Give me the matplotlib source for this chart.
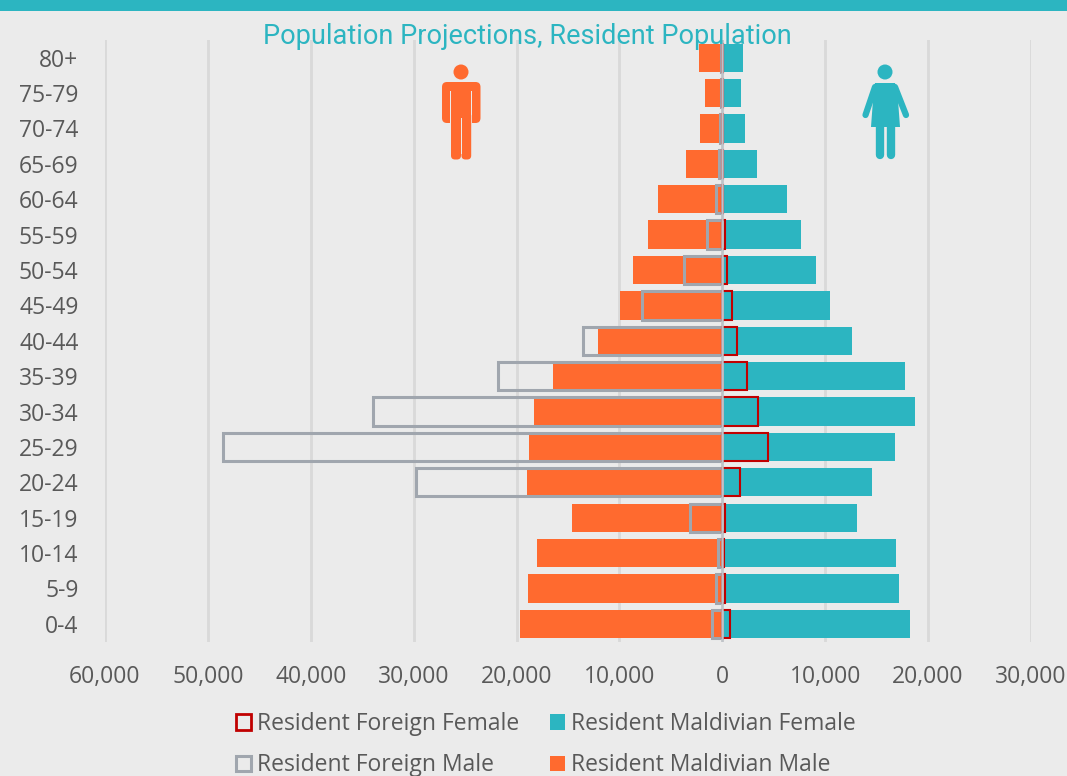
import matplotlib
matplotlib.use("Agg")
import matplotlib.pyplot as plt
from matplotlib.patches import Patch, Circle, FancyBboxPatch, Rectangle, Polygon

# bottom to top, same order as the chart
ages = ["0-4", "5-9", "10-14", "15-19", "20-24", "25-29", "30-34", "35-39", "40-44",
        "45-49", "50-54", "55-59", "60-64", "65-69", "70-74", "75-79", "80+"]
maldivian_male = [19650, 18900, 18000, 14600, 19000, 18800, 18300, 16450, 12060,
                  9900, 8650, 7200, 6300, 3500, 2150, 1650, 2250]
maldivian_female = [18200, 17200, 16900, 13050, 14500, 16800, 18700, 17800, 12650,
                    10500, 9150, 7650, 6300, 3350, 2250, 1850, 2000]
foreign_male = [1000, 600, 400, 3100, 29800, 48500, 34000, 21800, 13500,
                7800, 3700, 1500, 600, 300, 200, 100, 100]
foreign_female = [700, 300, 200, 250, 1750, 4400, 3500, 2350, 1400,
                  900, 500, 300, 100, 30, 30, 20, 20]
x_ticks = [-60000, -50000, -40000, -30000, -20000, -10000, 0, 10000, 20000, 30000]

TEAL = "#2CB5C1"
ORANGE = "#FF6A2F"
RED = "#C00000"
GRAY = "#A0A6AE"
BG = "#EBEBEB"
TEXT = "#595959"
W, H = 1067, 776

plt.rcParams["font.family"] = ["Open Sans", "DejaVu Sans"]

fig = plt.figure(figsize=(W / 100, H / 100), dpi=100, facecolor=BG)
ax = fig.add_axes([105 / W, 1 - 641.5 / H, (1031 - 105) / W, (641.5 - 40) / H], facecolor=BG)

y = list(range(len(ages)))
ax.barh(y, [-v for v in maldivian_male], height=0.8, color=ORANGE, zorder=2)
ax.barh(y, maldivian_female, height=0.8, color=TEAL, zorder=2)
ax.barh(y, [-v for v in foreign_male], height=0.8, facecolor="none", edgecolor=GRAY, linewidth=2.2, zorder=4)
ax.barh(y, foreign_female, height=0.8, facecolor="none", edgecolor=RED, linewidth=1.5, zorder=4)
ax.axvline(0, color="#BFC3C8", linewidth=1.8, zorder=5)

ax.set_xlim(-60000, 30000)
ax.set_ylim(-0.5, len(ages) - 0.5)
ax.set_xticks(x_ticks)
ax.set_xticklabels([f"{abs(v):,}" for v in x_ticks], fontsize=16.5, color=TEXT)
ax.set_yticks(y)
ax.set_yticklabels(ages, fontsize=16.5, color=TEXT)
ax.tick_params(axis="both", length=0)
ax.tick_params(axis="x", pad=17)
ax.tick_params(axis="y", pad=19)
ax.grid(axis="x", color="#D9D9D9", linewidth=2, zorder=0)
ax.set_axisbelow(True)
for s in ax.spines.values():
    s.set_visible(False)

# overlay in pixel coordinates for the band, title and icons
ov = fig.add_axes([0, 0, 1, 1], facecolor="none")
ov.set_xlim(0, W)
ov.set_ylim(H, 0)
ov.axis("off")
ov.add_patch(Rectangle((0, 0), W, 10.5, color=TEAL, lw=0))
ov.text(527, 36, "Population Projections, Resident Population", color=TEAL,
        fontsize=19.5, family="Roboto", ha="center", va="center")


def rbox(x0, y0, x1, y1, r, color):
    ov.add_patch(FancyBboxPatch((x0 + r, y0 + r), x1 - x0 - 2 * r, y1 - y0 - 2 * r,
                                boxstyle=f"round,pad={r},rounding_size={r}", color=color, lw=0))


# man
ov.add_patch(Circle((461, 72), 7.5, color=ORANGE, lw=0))
rbox(442, 82, 480.5, 123, 5, ORANGE)
ov.add_patch(Rectangle((450, 91), 1.2, 34, color=BG, lw=0))
ov.add_patch(Rectangle((471, 91), 1.2, 34, color=BG, lw=0))
ov.add_patch(Rectangle((451, 115), 20, 9, color=ORANGE, lw=0))
ov.add_patch(Rectangle((450, 118), 1, 7, color=BG, lw=0))
rbox(451, 112, 461, 159.5, 4, ORANGE)
rbox(461.5, 112, 471.2, 159.5, 4, ORANGE)
ov.add_patch(Rectangle((460.6, 118), 1.2, 36, color=BG, lw=0))

# woman
ov.add_patch(Circle((885, 72), 7.5, color=TEAL, lw=0))
ov.add_patch(Polygon([[875, 83], [895, 83], [898, 100], [900, 127], [871, 127], [873, 100]],
                     closed=True, color=TEAL, lw=0))
ov.plot([875, 865.5], [87, 115], color=TEAL, lw=4.5, solid_capstyle="round")
ov.plot([895, 906], [87, 115], color=TEAL, lw=4.5, solid_capstyle="round")
ov.plot([879.7, 879.7], [125, 155], color=TEAL, lw=6, solid_capstyle="round")
ov.plot([890.9, 890.9], [125, 155], color=TEAL, lw=6, solid_capstyle="round")

handles = [Patch(facecolor="none", edgecolor=RED, linewidth=2, label="Resident Foreign Female"),
           Patch(facecolor="none", edgecolor=GRAY, linewidth=2.2, label="Resident Foreign Male"),
           Patch(facecolor=TEAL, label="Resident Maldivian Female"),
           Patch(facecolor=ORANGE, label="Resident Maldivian Male")]
fig.legend(handles=handles, ncol=2, loc="lower left", bbox_to_anchor=(215 / W, -22 / H),
           frameon=False, fontsize=16.5, labelcolor=TEXT, labelspacing=0.75,
           handlelength=0.65, handleheight=0.65, handletextpad=0.27, columnspacing=1.35)

fig.savefig("out.png", dpi=100, facecolor=BG)
